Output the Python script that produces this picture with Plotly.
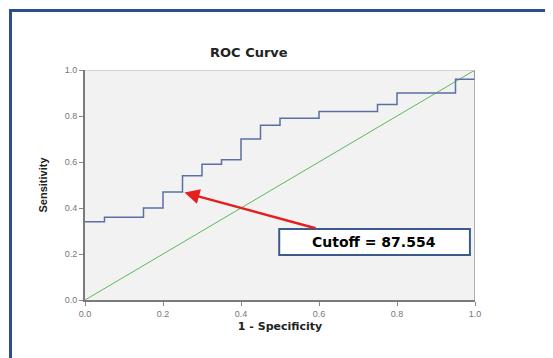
import plotly.graph_objects as go

# ROC curve points (1 - specificity, sensitivity)
fpr = [0.0, 0.05, 0.15, 0.20, 0.25, 0.30, 0.35, 0.40, 0.45, 0.50, 0.60, 0.75, 0.80, 0.95, 1.0, 1.0]
tpr = [0.34, 0.36, 0.40, 0.47, 0.54, 0.59, 0.61, 0.70, 0.76, 0.79, 0.82, 0.85, 0.90, 0.96, 0.96, 1.0]
ref_x = [0.0, 1.0]
ref_y = [0.0, 1.0]
tick_vals = [0.0, 0.2, 0.4, 0.6, 0.8, 1.0]
tick_text = ["0.0", "0.2", "0.4", "0.6", "0.8", "1.0"]
cutoff_label = "Cutoff = 87.554"
cutoff_point = (0.255, 0.467)

L, T, PW, PH = 77, 62, 390, 230
W, H = 553, 358

def px(xf):  # figure pixel x -> paper
    return (xf - L) / PW

def py(yf):  # figure pixel y (from top) -> paper
    return (T + PH - yf) / PH

fig = go.Figure()
fig.add_trace(go.Scatter(x=ref_x, y=ref_y, mode="lines",
                         line=dict(color="#5cb85c", width=1), hoverinfo="skip"))
fig.add_trace(go.Scatter(x=fpr, y=tpr, mode="lines", line_shape="hv",
                         line=dict(color="#5b6fa3", width=1.5), hoverinfo="skip"))

axis_common = dict(range=[0, 1], tickvals=tick_vals, ticktext=tick_text,
                   ticks="outside", ticklen=4, tickcolor="#888", tickwidth=1,
                   showgrid=False, zeroline=False, showline=True,
                   linecolor="#7a7a7a", linewidth=2,
                   tickfont=dict(family="Liberation Sans, Arial", size=9, color="#777"))

fig.update_layout(
    width=W, height=H,
    margin=dict(l=L, r=W - L - PW, t=T, b=H - T - PH),
    paper_bgcolor="white", plot_bgcolor="#f2f2f2",
    showlegend=False,
    xaxis=dict(**axis_common,
               title=dict(text="<b>1 - Specificity</b>", standoff=5,
                          font=dict(family="DejaVu Sans", size=11, color="#222"))),
    yaxis=dict(**axis_common,
               title=dict(text="<b>Sensitivity</b>", standoff=15,
                          font=dict(family="Liberation Sans Narrow, Arial Narrow, Liberation Sans", size=11, color="#222"))),
)

shapes = [
    # top and right plot border
    dict(type="line", xref="x", yref="y", x0=0, x1=1, y0=1, y1=1,
         line=dict(color="#c8c8c8", width=1.5)),
    dict(type="line", xref="x", yref="y", x0=1, x1=1, y0=0, y1=1,
         line=dict(color="#9a9a9a", width=1.5)),
    # cutoff box
    dict(type="rect", xref="x", yref="y", x0=0.498, x1=0.987, y0=0.196, y1=0.309,
         line=dict(color="#3b5a8c", width=2), fillcolor="white", layer="above"),
    # page frame
    dict(type="line", xref="paper", yref="paper", x0=px(1), x1=px(W),
         y0=py(2.5), y1=py(2.5), line=dict(color="#2c4f8a", width=3)),
    dict(type="line", xref="paper", yref="paper", x0=px(2.5), x1=px(2.5),
         y0=py(1), y1=py(H), line=dict(color="#2c4f8a", width=3)),
]
fig.update_layout(shapes=shapes)

fig.add_annotation(x=cutoff_point[0], y=cutoff_point[1], ax=0.595, ay=0.31,
                   xref="x", yref="y", axref="x", ayref="y",
                   showarrow=True, arrowhead=2, arrowsize=1.2, arrowwidth=2.5,
                   arrowcolor="#e51e1e", text="")
fig.add_annotation(x=0.742, y=0.252, xref="x", yref="y", text="<b>" + cutoff_label + "</b>",
                   showarrow=False, font=dict(family="DejaVu Sans", size=14, color="black"))
fig.add_annotation(x=px(241), y=py(35), xref="paper", yref="paper",
                   text="<b>ROC Curve</b>", showarrow=False,
                   font=dict(family="DejaVu Sans", size=13, color="#222"))

fig.write_html("out.html")
